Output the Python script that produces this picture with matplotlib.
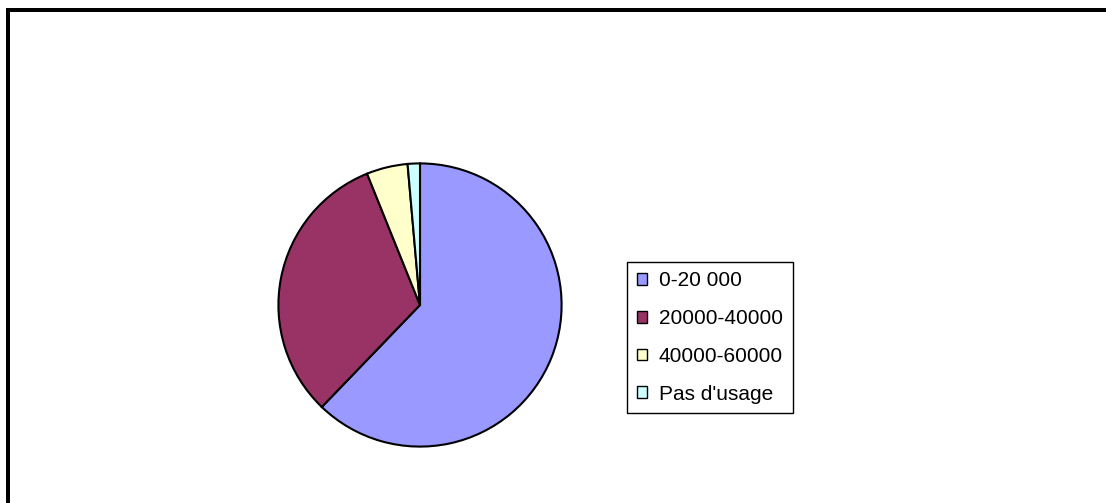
import matplotlib
matplotlib.use("Agg")
import matplotlib.pyplot as plt
from matplotlib.lines import Line2D
from matplotlib.patches import Patch

categories = ["0-20 000", "20000-40000", "40000-60000", "Pas d'usage"]
values = [62.2, 31.7, 4.7, 1.4]
colors = ["#9999FF", "#993366", "#FFFFCC", "#CCFFFF"]

plt.rcParams['font.family'] = ['Liberation Sans', 'DejaVu Sans']

W, H = 1106, 503
fig = plt.figure(figsize=(W / 100, H / 100), dpi=100)
fig.patch.set_facecolor("white")

cx, cy, r = 420, 305, 143
ax = fig.add_axes([(cx - r) / W, (H - cy - r) / H, 2 * r / W, 2 * r / H])
wedges, _ = ax.pie(values, colors=colors, startangle=90, counterclock=False,
                   radius=1.0,
                   wedgeprops=dict(edgecolor="black", linewidth=1.5))
ax.set_xlim(-1.01, 1.01)
ax.set_ylim(-1.01, 1.01)
ax.set_aspect("equal")
ax.axis("off")

handles = [Patch(facecolor=c, edgecolor="black", linewidth=1.0) for c in colors]
leg = fig.legend(handles, categories, loc="center",
                 bbox_to_anchor=(710 / W, 1 - 337.5 / H),
                 fontsize=15, frameon=True, fancybox=False, shadow=False,
                 framealpha=1, edgecolor="black",
                 handlelength=0.5, handleheight=0.5, handletextpad=0.55,
                 labelspacing=0.9, borderpad=0.46, borderaxespad=0)
leg.get_frame().set_linewidth(1.0)

# outer chart border (left and top visible)
lw = 4 * 72 / 100
fig.add_artist(Line2D([8 / W, 8 / W], [-0.1, 1 - 10 / H], color="black",
                      linewidth=lw, solid_capstyle="projecting"))
fig.add_artist(Line2D([8 / W, 1.1], [1 - 10 / H, 1 - 10 / H], color="black",
                      linewidth=lw, solid_capstyle="projecting"))

fig.savefig("out.png", dpi=100, facecolor="white")
